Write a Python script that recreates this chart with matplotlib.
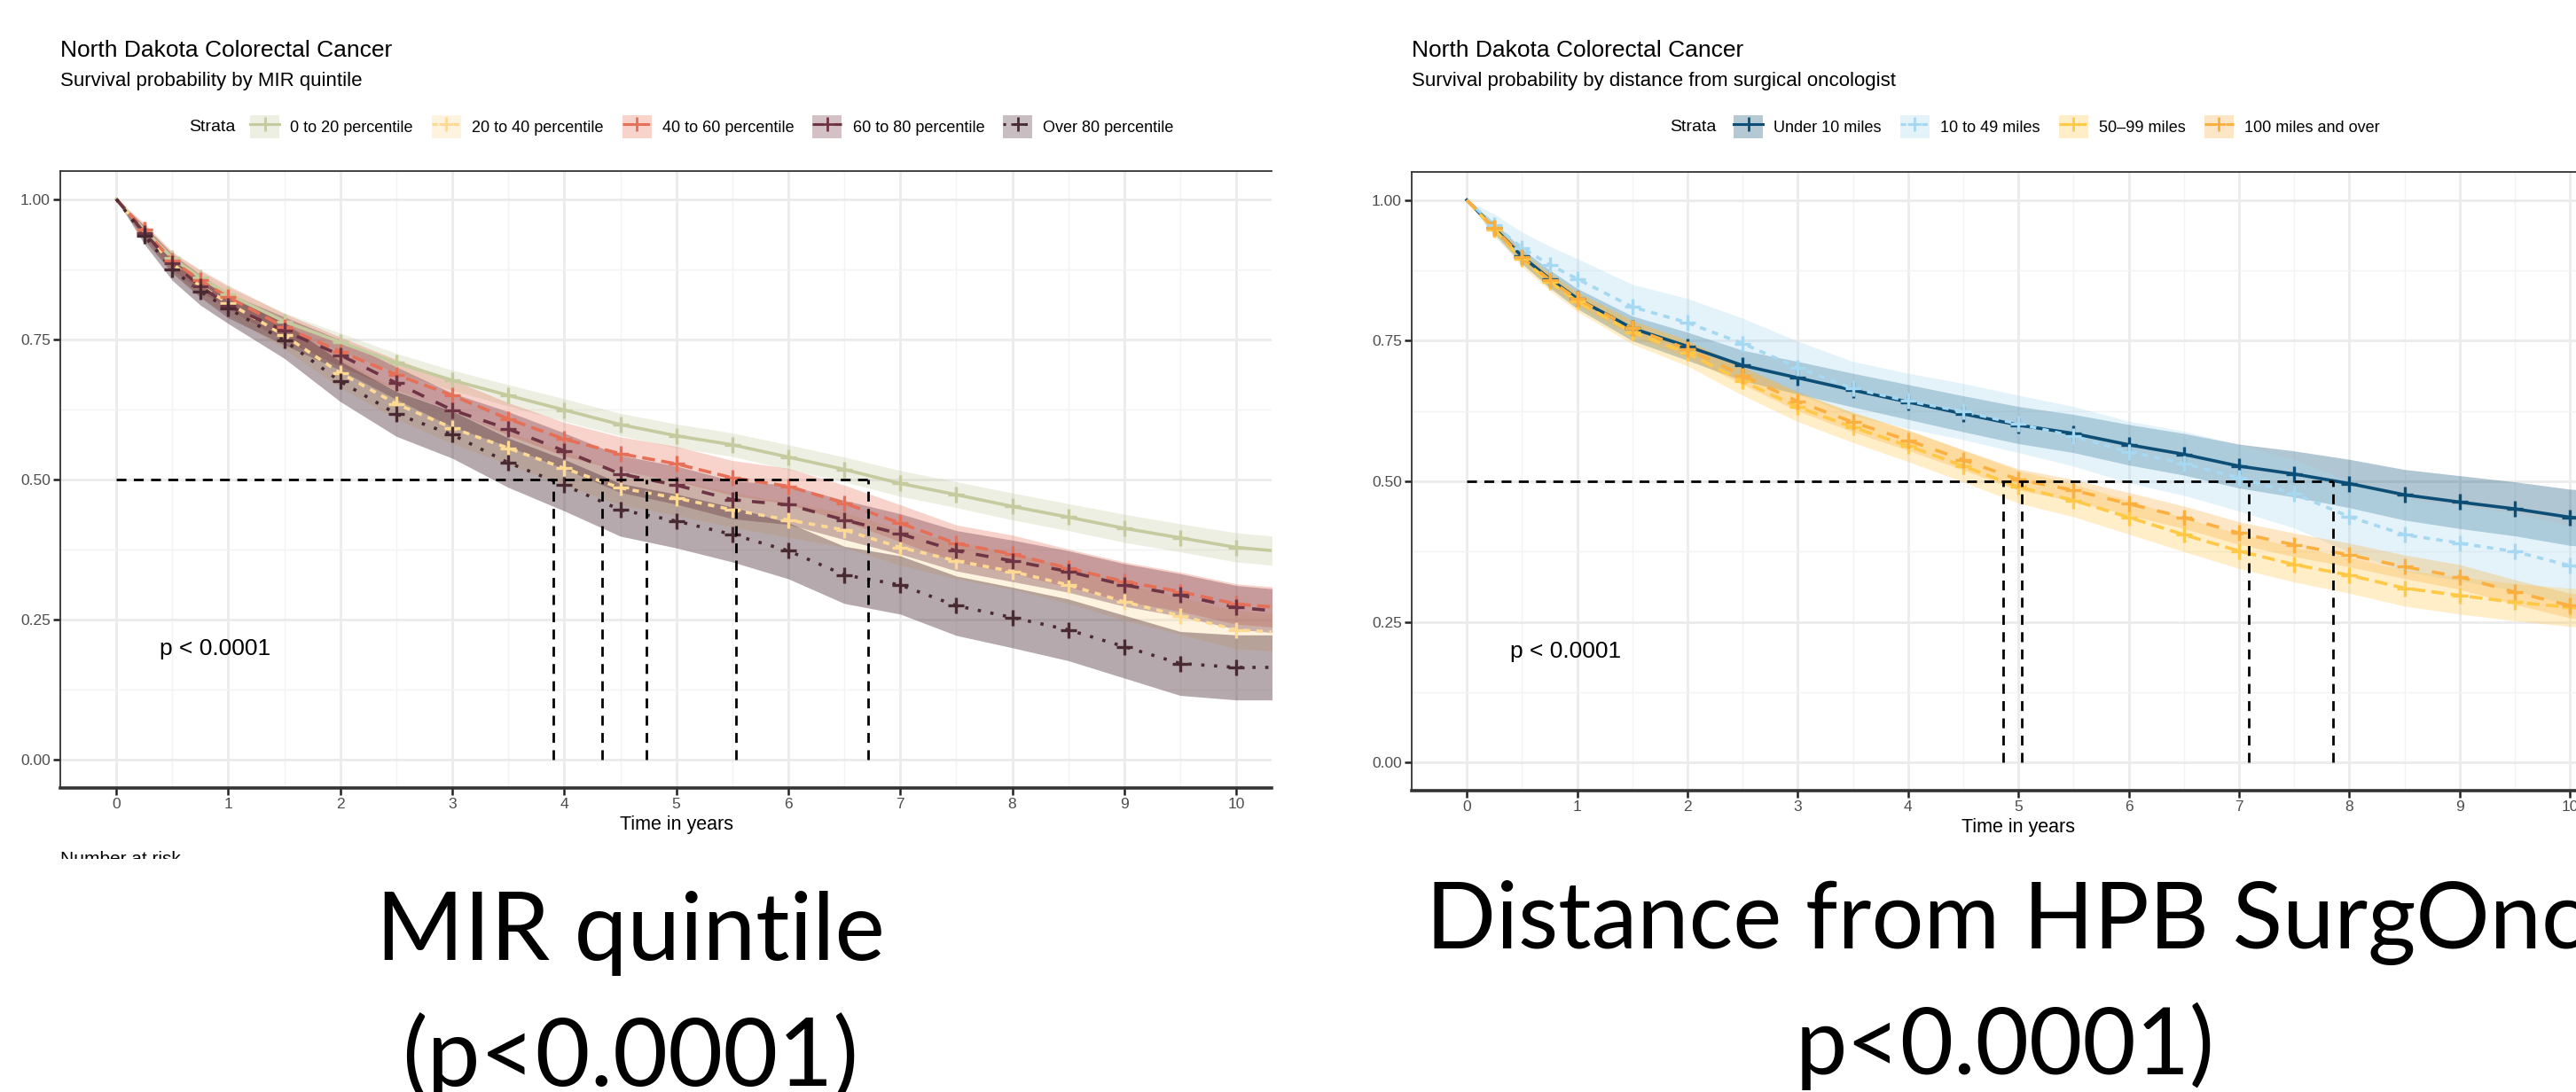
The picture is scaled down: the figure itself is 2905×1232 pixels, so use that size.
import matplotlib
matplotlib.use("Agg")
import numpy as np
import matplotlib.pyplot as plt
from matplotlib.patches import Patch, Rectangle
from matplotlib.lines import Line2D
from matplotlib.transforms import blended_transform_factory

plt.rcParams["font.family"] = ["Liberation Sans", "DejaVu Sans"]

# %% data
years = [0, 0.25, 0.5, 0.75, 1, 1.5, 2, 2.5, 3, 3.5, 4, 4.5, 5, 5.5,
         6, 6.5, 7, 7.5, 8, 8.5, 9, 9.5, 10, 10.5]

# left panel: MIR quintile
mir_labels = ["0 to 20 percentile", "20 to 40 percentile", "40 to 60 percentile",
              "60 to 80 percentile", "Over 80 percentile"]
mir_q1 = [1.0, 0.945, 0.895, 0.86, 0.83, 0.782, 0.745, 0.708, 0.677, 0.65, 0.624, 0.598,
          0.578, 0.562, 0.54, 0.518, 0.493, 0.473, 0.452, 0.433, 0.413, 0.396, 0.379, 0.37]
mir_q2 = [1.0, 0.94, 0.885, 0.845, 0.815, 0.757, 0.69, 0.635, 0.592, 0.556, 0.52, 0.485,
          0.467, 0.446, 0.428, 0.41, 0.379, 0.355, 0.336, 0.312, 0.282, 0.257, 0.232, 0.226]
mir_q3 = [1.0, 0.945, 0.89, 0.855, 0.825, 0.772, 0.728, 0.687, 0.65, 0.608, 0.572, 0.546,
          0.528, 0.503, 0.488, 0.458, 0.422, 0.386, 0.367, 0.342, 0.318, 0.3, 0.278, 0.27]
mir_q4 = [1.0, 0.94, 0.885, 0.845, 0.81, 0.765, 0.722, 0.672, 0.624, 0.59, 0.551, 0.51,
          0.49, 0.464, 0.455, 0.428, 0.403, 0.373, 0.355, 0.336, 0.312, 0.294, 0.272, 0.263]
mir_q5 = [1.0, 0.935, 0.875, 0.835, 0.805, 0.748, 0.675, 0.617, 0.58, 0.53, 0.49, 0.446,
          0.426, 0.402, 0.373, 0.33, 0.312, 0.275, 0.254, 0.232, 0.202, 0.172, 0.165, 0.165]
# half widths of the confidence bands
mir_ci1 = [0, 0.008, 0.01, 0.012, 0.013, 0.015, 0.016, 0.017, 0.018, 0.019, 0.02, 0.02,
           0.021, 0.021, 0.022, 0.022, 0.023, 0.023, 0.024, 0.024, 0.025, 0.025, 0.026, 0.026]
mir_ci2 = [0, 0.012, 0.016, 0.019, 0.021, 0.024, 0.026, 0.027, 0.028, 0.029, 0.03, 0.03,
           0.031, 0.031, 0.031, 0.031, 0.032, 0.032, 0.032, 0.033, 0.033, 0.033, 0.034, 0.034]
mir_ci3 = [0, 0.012, 0.016, 0.019, 0.021, 0.024, 0.026, 0.027, 0.028, 0.029, 0.03, 0.03,
           0.031, 0.031, 0.032, 0.032, 0.033, 0.033, 0.034, 0.034, 0.035, 0.035, 0.036, 0.036]
mir_ci4 = [0, 0.013, 0.017, 0.02, 0.022, 0.025, 0.027, 0.029, 0.03, 0.031, 0.032, 0.033,
           0.034, 0.034, 0.035, 0.035, 0.036, 0.036, 0.037, 0.037, 0.038, 0.038, 0.039, 0.039]
mir_ci5 = [0, 0.015, 0.02, 0.024, 0.027, 0.032, 0.036, 0.04, 0.042, 0.044, 0.046, 0.047,
           0.048, 0.049, 0.05, 0.051, 0.052, 0.053, 0.054, 0.055, 0.056, 0.057, 0.058, 0.058]
mir_medians = [3.90, 4.34, 4.73, 5.53, 6.71]

# right panel: distance from surgical oncologist
dist_labels = ["Under 10 miles", "10 to 49 miles", "50\u201399 miles", "100 miles and over"]
dist_u10 = [1.0, 0.95, 0.9, 0.86, 0.825, 0.772, 0.74, 0.706, 0.684, 0.662, 0.641, 0.62,
            0.6, 0.585, 0.565, 0.548, 0.527, 0.513, 0.496, 0.476, 0.463, 0.451, 0.436, 0.43]
dist_10_49 = [1.0, 0.955, 0.915, 0.885, 0.86, 0.81, 0.782, 0.745, 0.702, 0.665, 0.643, 0.624,
              0.602, 0.58, 0.552, 0.532, 0.506, 0.478, 0.437, 0.405, 0.39, 0.375, 0.35, 0.34]
dist_50_99 = [1.0, 0.948, 0.895, 0.855, 0.82, 0.765, 0.728, 0.678, 0.632, 0.596, 0.563, 0.527,
              0.49, 0.466, 0.436, 0.405, 0.376, 0.352, 0.333, 0.31, 0.297, 0.285, 0.276, 0.27]
dist_100 = [1.0, 0.95, 0.898, 0.858, 0.824, 0.772, 0.735, 0.688, 0.642, 0.605, 0.573, 0.538,
            0.503, 0.484, 0.46, 0.436, 0.408, 0.387, 0.369, 0.348, 0.33, 0.303, 0.279, 0.272]
dist_ci1 = [0, 0.01, 0.013, 0.016, 0.018, 0.022, 0.025, 0.027, 0.029, 0.03, 0.031, 0.032,
            0.033, 0.034, 0.036, 0.037, 0.039, 0.041, 0.043, 0.045, 0.047, 0.048, 0.05, 0.05]
dist_ci2 = [0, 0.02, 0.028, 0.033, 0.036, 0.04, 0.043, 0.045, 0.047, 0.048, 0.049, 0.05,
            0.051, 0.053, 0.055, 0.057, 0.059, 0.061, 0.063, 0.065, 0.067, 0.069, 0.07, 0.07]
dist_ci3 = [0, 0.01, 0.013, 0.016, 0.018, 0.021, 0.023, 0.025, 0.026, 0.027, 0.028, 0.028,
            0.029, 0.029, 0.03, 0.03, 0.031, 0.031, 0.032, 0.032, 0.033, 0.033, 0.034, 0.034]
dist_ci4 = [0, 0.007, 0.009, 0.011, 0.012, 0.014, 0.015, 0.016, 0.017, 0.017, 0.018, 0.018,
            0.019, 0.019, 0.02, 0.02, 0.02, 0.021, 0.021, 0.021, 0.022, 0.022, 0.022, 0.022]
dist_medians = [4.86, 5.03, 7.09, 7.85]

mir_colors = ["#C6CA9F", "#FDD994", "#E56F57", "#6E3444", "#4A2A32"]
mir_alpha = [0.3, 0.3, 0.3, 0.35, 0.4]
dist_colors = ["#0C4E75", "#A6D8F1", "#FFC847", "#FBAF3F"]
dist_alpha = [0.32, 0.3, 0.3, 0.3]
# ggplot linetypes: solid, 22, 42, 44, 13
line_styles = ["-", (0, (2, 2)), (0, (4, 2)), (0, (4, 4)), (0, (1, 3))]

W, H = 2905, 1232
fig = plt.figure(figsize=(W / 100, H / 100), dpi=100)


def px_axes(x0, y0, x1, y1):
    return fig.add_axes([x0 / W, 1 - y1 / H, (x1 - x0) / W, (y1 - y0) / H])


def style_axes(ax, xmax):
    ax.set_xlim(-0.5, xmax)
    ax.set_ylim(-0.05, 1.05)
    ax.set_xticks(range(11))
    ax.set_xticks(np.arange(0.5, 10.5, 1), minor=True)
    ax.set_yticks([0, 0.25, 0.5, 0.75, 1.0])
    ax.set_yticklabels(["0.00", "0.25", "0.50", "0.75", "1.00"])
    ax.set_yticks([0.125, 0.375, 0.625, 0.875], minor=True)
    ax.grid(which="major", color="#EBEBEB", lw=2.0)
    ax.grid(which="minor", color="#F3F3F3", lw=1.0)
    ax.set_axisbelow(True)
    ax.tick_params(which="major", length=5.5, width=1.8, color="#222222",
                   labelsize=12.5, labelcolor="#4D4D4D", pad=2.5)
    ax.tick_params(which="minor", length=0)
    for side in ["top", "left", "right"]:
        ax.spines[side].set_color("#333333")
        ax.spines[side].set_linewidth(1.3)
    ax.spines["bottom"].set_color("#333333")
    ax.spines["bottom"].set_linewidth(2.6)
    trans = blended_transform_factory(ax.transData, ax.transAxes)
    ax.text(5, -0.059, "Time in years", transform=trans, ha="center", va="center",
            fontsize=15.5)


def draw_km(ax, curves, widths, colors, alphas, medians):
    for s, w, c, a in zip(curves, widths, colors, alphas):
        s = np.array(s)
        w = np.array(w)
        ax.fill_between(years, s - w, s + w, color=c, alpha=a, lw=0, zorder=2)
    for s, c, ls in zip(curves, colors, line_styles):
        ax.plot(years, s, color=c, lw=2.6, ls=ls, zorder=3)
        ax.plot(years[1:], s[1:], ls="none", marker="+", ms=13, mew=2.4, color=c, zorder=4)
    ax.plot([0, max(medians)], [0.5, 0.5], color="black", lw=2.0, dashes=(4, 3), zorder=5)
    for m in medians:
        ax.plot([m, m], [0, 0.5], color="black", lw=2.0, dashes=(4, 3), zorder=5)
    ax.text(0.39, 0.198, "p < 0.0001", fontsize=19, ha="left", va="center", zorder=6)


def add_legend(labels, colors, title_x, key_x):
    handles = []
    for c, ls in zip(colors, line_styles):
        handles.append((Patch(facecolor=c, alpha=0.3, edgecolor="none"),
                        Line2D([], [], color=c, lw=2.2, ls=ls, marker="+", ms=11, mew=2)))
    fig.text(title_x / W, 1 - 143 / H, "Strata", fontsize=14, ha="left", va="center")
    fig.legend(handles, labels, loc="center left", bbox_to_anchor=(key_x / W, 1 - 143 / H),
               ncol=len(labels), frameon=False, fontsize=13, handlelength=1.83,
               handleheight=1.78, handletextpad=0.67, columnspacing=1.17,
               borderpad=0, borderaxespad=0, numpoints=1)


# %% left panel
ax1 = px_axes(68, 193, 1434, 889)
style_axes(ax1, -0.5 + (1434 - 68) / 126.3)
ax1.spines["right"].set_visible(False)
draw_km(ax1, [mir_q1, mir_q2, mir_q3, mir_q4, mir_q5],
        [mir_ci1, mir_ci2, mir_ci3, mir_ci4, mir_ci5], mir_colors, mir_alpha, mir_medians)
fig.text(68 / W, 1 - 57 / H, "North Dakota Colorectal Cancer", fontsize=19, va="center")
fig.text(68 / W, 1 - 92 / H, "Survival probability by MIR quintile", fontsize=16, va="center")
add_legend(mir_labels, mir_colors, 213, 282)

# %% right panel (runs past the slide edge)
ax2 = px_axes(1592, 194, 1592 + 11 * 124.4, 892)
style_axes(ax2, 10.5)
draw_km(ax2, [dist_u10, dist_10_49, dist_50_99, dist_100],
        [dist_ci1, dist_ci2, dist_ci3, dist_ci4], dist_colors, dist_alpha, dist_medians)
fig.text(1592 / W, 1 - 57 / H, "North Dakota Colorectal Cancer", fontsize=19, va="center")
fig.text(1592 / W, 1 - 92 / H, "Survival probability by distance from surgical oncologist",
         fontsize=16, va="center")
add_legend(dist_labels, dist_colors, 1883, 1955)

# %% slide captions
fig.text(68 / W, 1 - 960 / H, "Number at risk", fontsize=15, va="top", zorder=1)
fig.add_artist(Rectangle((0, 0), 1450 / W, 1 - 969 / H, transform=fig.transFigure,
                         facecolor="white", edgecolor="none", zorder=2))
big = dict(family=["Lato", "DejaVu Sans"], va="baseline", zorder=3)
fig.text(711 / W, 1 - 1083 / H, "MIR quintile", ha="center", fontsize=77, **big)
fig.text(711 / W, 1 - 1225 / H, "(p<0.0001)", ha="center", fontsize=77, **big)
fig.text(1608 / W, 1 - 1070 / H, "Distance from HPB SurgOnc (", ha="left", fontsize=75, **big)
fig.text(2025 / W, 1 - 1212 / H, "p<0.0001)", ha="left", fontsize=75, **big)

fig.savefig("out.png", dpi=100)
